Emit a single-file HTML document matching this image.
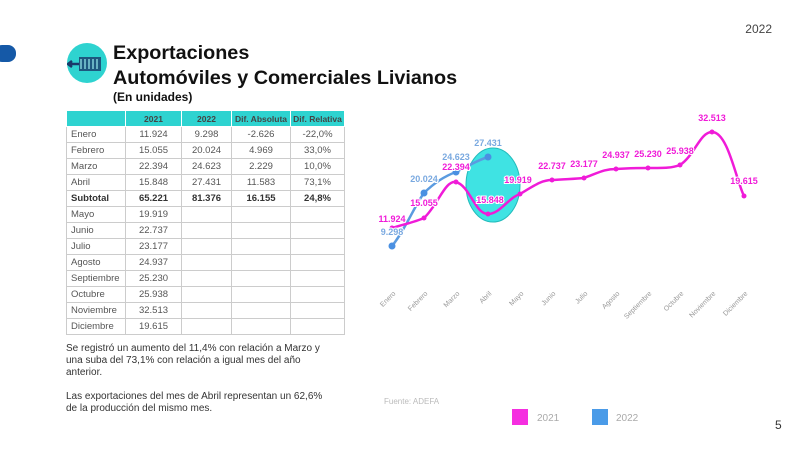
<!DOCTYPE html>
<html><head><meta charset="utf-8"><style>
body{margin:0;width:800px;height:450px;background:#fff;position:relative;overflow:hidden;font-family:"Liberation Sans",sans-serif}
.abs{position:absolute}
table{border-collapse:collapse;font-size:9.5px;color:#555;table-layout:fixed}
td{border:1px solid #ccc;height:15px;padding:0 4px;text-align:center;white-space:nowrap;line-height:14px}
td:first-child{text-align:left}
th{background:#2ed3d0;color:#444;height:15px;font-size:8.5px;border:1px solid #fff;padding:0;white-space:nowrap;line-height:14px;overflow:hidden}
tr.b td{font-weight:bold;color:#333}
</style></head><body>
<div class="abs" style="left:-6px;top:45px;width:22px;height:17px;background:#1559a7;border-radius:8px"></div>
<div class="abs" style="right:28px;top:22px;font-size:12px;color:#444">2022</div>
<div class="abs" style="left:67px;top:43px;width:40px;height:40px;border-radius:50%;background:#2ed3d0"></div>
<svg class="abs" style="left:67px;top:43px" width="40" height="40"><rect x="12" y="14" width="22" height="14" fill="#1a3a6a" opacity=".8"/><path d="M14 16v10M18 16v10M22 16v10M26 16v10M30 16v10" stroke="#9ee" stroke-width="1.2"/><path d="M2 21h10M5 18l-4 3 4 3" stroke="#1a3a6a" stroke-width="2.5" fill="none"/></svg>
<div class="abs" style="left:113px;top:41px;font-size:19.8px;font-weight:bold;color:#111;line-height:25px">Exportaciones<br>Automóviles y Comerciales Livianos</div>
<div class="abs" style="left:113px;top:90px;font-size:12px;font-weight:bold;color:#111">(En unidades)</div>
<table class="abs" style="left:66px;top:110px;width:279px">
<tr><th style="width:58px"></th><th style="width:55px">2021</th><th style="width:49px">2022</th><th style="width:58px">Dif. Absoluta</th><th>Dif. Relativa</th></tr>
<tr><td>Enero</td><td>11.924</td><td>9.298</td><td>-2.626</td><td>-22,0%</td></tr>
<tr><td>Febrero</td><td>15.055</td><td>20.024</td><td>4.969</td><td>33,0%</td></tr>
<tr><td>Marzo</td><td>22.394</td><td>24.623</td><td>2.229</td><td>10,0%</td></tr>
<tr><td>Abril</td><td>15.848</td><td>27.431</td><td>11.583</td><td>73,1%</td></tr>
<tr class="b"><td>Subtotal</td><td>65.221</td><td>81.376</td><td>16.155</td><td>24,8%</td></tr>
<tr><td>Mayo</td><td>19.919</td><td></td><td></td><td></td></tr>
<tr><td>Junio</td><td>22.737</td><td></td><td></td><td></td></tr>
<tr><td>Julio</td><td>23.177</td><td></td><td></td><td></td></tr>
<tr><td>Agosto</td><td>24.937</td><td></td><td></td><td></td></tr>
<tr><td>Septiembre</td><td>25.230</td><td></td><td></td><td></td></tr>
<tr><td>Octubre</td><td>25.938</td><td></td><td></td><td></td></tr>
<tr><td>Noviembre</td><td>32.513</td><td></td><td></td><td></td></tr>
<tr><td>Diciembre</td><td>19.615</td><td></td><td></td><td></td></tr>
</table>
<div class="abs" style="left:66px;top:343px;width:265px;font-size:10px;color:#333;line-height:12px">Se registró un aumento del 11,4% con relación a Marzo y una suba del 73,1% con relación a igual mes del año anterior.<br><br>Las exportaciones del mes de Abril representan un 62,6% de la producción del mismo mes.</div>
<svg class="abs" style="left:0;top:0" width="800" height="450" font-family="Liberation Sans,sans-serif">
<ellipse cx="493" cy="185" rx="27" ry="37" fill="#3fe3e3" stroke="#22bbbb"/>
<path d="M392 246 C405 230,415 205,424 193 C435 182,445 176,456 172 C468 166,478 160,488 157" stroke="#5b9be0" stroke-width="2.5" fill="none"/>
<g fill="#4a90e2"><circle cx="392" cy="246" r="3.5"/><circle cx="424" cy="193" r="3.5"/><circle cx="456" cy="172" r="3.5"/><circle cx="488" cy="157" r="3.5"/></g>
<path d="M392 228 C405 224,415 222,424 218 C438 205,445 180,456 182 C470 186,475 214,488 214 C500 214,508 198,520 194 C535 185,542 180,552 180 C565 179,575 179,584 178 C600 172,605 169,616 169 C630 168,640 168,648 168 C665 168,672 168,680 165 C695 155,700 132,712 132 C728 132,736 180,744 196" stroke="#f01bd8" stroke-width="2.5" fill="none"/>
<g fill="#f01bd8"><circle cx="392" cy="228" r="2.5"/><circle cx="424" cy="218" r="2.5"/><circle cx="456" cy="182" r="2.5"/><circle cx="488" cy="214" r="2.5"/><circle cx="520" cy="194" r="2.5"/><circle cx="552" cy="180" r="2.5"/><circle cx="584" cy="178" r="2.5"/><circle cx="616" cy="169" r="2.5"/><circle cx="648" cy="168" r="2.5"/><circle cx="680" cy="165" r="2.5"/><circle cx="712" cy="132" r="2.5"/><circle cx="744" cy="196" r="2.5"/></g>
<g font-size="9" font-weight="bold" fill="#f01bd8" text-anchor="middle" stroke="#fff" stroke-width="2" paint-order="stroke">
<text x="392" y="222">11.924</text><text x="424" y="206">15.055</text><text x="456" y="170">22.394</text><text x="490" y="203">15.848</text><text x="518" y="183">19.919</text><text x="552" y="169">22.737</text><text x="584" y="167">23.177</text><text x="616" y="158">24.937</text><text x="648" y="157">25.230</text><text x="680" y="154">25.938</text><text x="712" y="121">32.513</text><text x="744" y="184">19.615</text></g>
<g font-size="9" font-weight="bold" fill="#7aa9e0" text-anchor="middle" stroke="#fff" stroke-width="2" paint-order="stroke">
<text x="392" y="235">9.298</text><text x="424" y="182">20.024</text><text x="456" y="160">24.623</text><text x="488" y="146">27.431</text></g>
<g font-size="7" fill="#999" text-anchor="end">
<text transform="translate(396,294) rotate(-45)">Enero</text><text transform="translate(428,294) rotate(-45)">Febrero</text><text transform="translate(460,294) rotate(-45)">Marzo</text><text transform="translate(492,294) rotate(-45)">Abril</text><text transform="translate(524,294) rotate(-45)">Mayo</text><text transform="translate(556,294) rotate(-45)">Junio</text><text transform="translate(588,294) rotate(-45)">Julio</text><text transform="translate(620,294) rotate(-45)">Agosto</text><text transform="translate(652,294) rotate(-45)">Septiembre</text><text transform="translate(684,294) rotate(-45)">Octubre</text><text transform="translate(716,294) rotate(-45)">Noviembre</text><text transform="translate(748,294) rotate(-45)">Diciembre</text></g>
<text x="384" y="404" font-size="8" fill="#bbb">Fuente: ADEFA</text>
<rect x="512" y="409" width="16" height="16" fill="#f52ee0"/><text x="537" y="421" font-size="10" fill="#aaa">2021</text>
<rect x="592" y="409" width="16" height="16" fill="#4a9be8"/><text x="616" y="421" font-size="10" fill="#aaa">2022</text>
<text x="775" y="429" font-size="12" fill="#333">5</text>
</svg>
</body></html>
